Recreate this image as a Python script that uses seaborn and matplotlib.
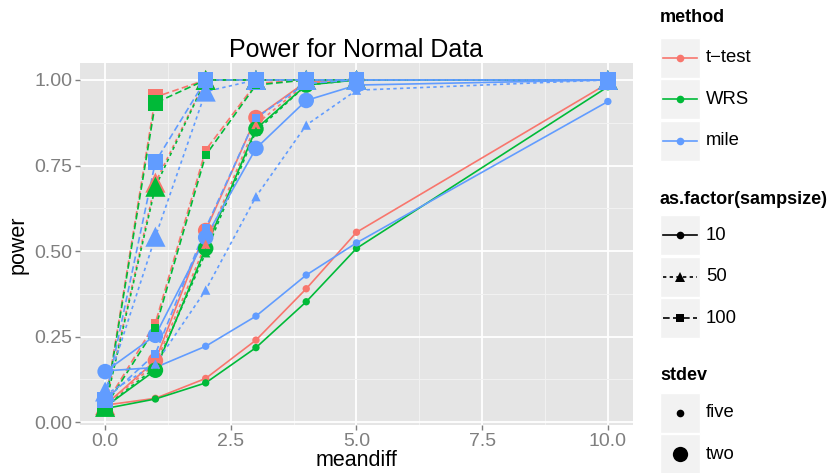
import matplotlib
matplotlib.use('Agg')
import matplotlib.pyplot as plt
import seaborn as sns
import pandas as pd
from matplotlib.patches import Rectangle
from matplotlib.lines import Line2D

plt.rcParams['font.family'] = ['Liberation Sans', 'DejaVu Sans']

# data
meandiff = [0, 1, 2, 3, 4, 5, 10]
methods = ['t\u2212test', 'WRS', 'mile']
sampsizes = ['10', '50', '100']
stdevs = ['five', 'two']

ttest_five_10 = [0.05, 0.07, 0.128, 0.24, 0.39, 0.555, 0.99]
ttest_five_50 = [0.05, 0.17, 0.52, 0.87, 0.99, 1.0, 1.0]
ttest_five_100 = [0.05, 0.29, 0.795, 0.99, 1.0, 1.0, 1.0]
ttest_two_10 = [0.05, 0.18, 0.56, 0.89, 0.995, 1.0, 1.0]
ttest_two_50 = [0.05, 0.70, 1.0, 1.0, 1.0, 1.0, 1.0]
ttest_two_100 = [0.05, 0.95, 1.0, 1.0, 1.0, 1.0, 1.0]

wrs_five_10 = [0.04, 0.068, 0.115, 0.218, 0.352, 0.508, 0.98]
wrs_five_50 = [0.045, 0.16, 0.495, 0.85, 0.985, 1.0, 1.0]
wrs_five_100 = [0.045, 0.275, 0.78, 0.985, 1.0, 1.0, 1.0]
wrs_two_10 = [0.045, 0.152, 0.508, 0.857, 0.985, 1.0, 1.0]
wrs_two_50 = [0.045, 0.688, 1.0, 1.0, 1.0, 1.0, 1.0]
wrs_two_100 = [0.045, 0.933, 1.0, 1.0, 1.0, 1.0, 1.0]

mile_five_10 = [0.15, 0.16, 0.222, 0.31, 0.43, 0.524, 0.937]
mile_five_50 = [0.08, 0.17, 0.386, 0.659, 0.868, 0.97, 1.0]
mile_five_100 = [0.065, 0.2, 0.567, 0.889, 0.99, 1.0, 1.0]
mile_two_10 = [0.148, 0.254, 0.54, 0.80, 0.94, 0.985, 1.0]
mile_two_50 = [0.09, 0.542, 0.966, 1.0, 1.0, 1.0, 1.0]
mile_two_100 = [0.065, 0.761, 1.0, 1.0, 1.0, 1.0, 1.0]

series = {
    ('t\u2212test', 'five', '10'): ttest_five_10, ('t\u2212test', 'five', '50'): ttest_five_50,
    ('t\u2212test', 'five', '100'): ttest_five_100, ('t\u2212test', 'two', '10'): ttest_two_10,
    ('t\u2212test', 'two', '50'): ttest_two_50, ('t\u2212test', 'two', '100'): ttest_two_100,
    ('WRS', 'five', '10'): wrs_five_10, ('WRS', 'five', '50'): wrs_five_50,
    ('WRS', 'five', '100'): wrs_five_100, ('WRS', 'two', '10'): wrs_two_10,
    ('WRS', 'two', '50'): wrs_two_50, ('WRS', 'two', '100'): wrs_two_100,
    ('mile', 'five', '10'): mile_five_10, ('mile', 'five', '50'): mile_five_50,
    ('mile', 'five', '100'): mile_five_100, ('mile', 'two', '10'): mile_two_10,
    ('mile', 'two', '50'): mile_two_50, ('mile', 'two', '100'): mile_two_100,
}

rows = []
for (m, sd, n), vals in series.items():
    for x, p in zip(meandiff, vals):
        rows.append({'method': m, 'stdev': sd, 'sampsize': n, 'meandiff': x, 'power': p})
df = pd.DataFrame(rows)

palette = {'t\u2212test': '#F8766D', 'WRS': '#00BA38', 'mile': '#619CFF'}
dashes = {'10': '', '50': (2, 2), '100': (4, 2)}

fig = plt.figure(figsize=(8.29, 4.73), dpi=100)
ax = fig.add_axes([80 / 829, 1 - 425 / 473, (633 - 80) / 829, (425 - 63.5) / 473])
ax.set_facecolor('#E5E5E5')

sns.lineplot(data=df, x='meandiff', y='power', hue='method', hue_order=methods,
             style='sampsize', style_order=sampsizes, units='stdev', estimator=None,
             palette=palette, dashes=dashes, lw=1.2, legend=False, sort=False, ax=ax)

# points, one call per sample size so each shape gets its own size range
shape_sizes = {'10': ('o', {'five': 28, 'two': 125}),
               '50': ('^', {'five': 45, 'two': 210}),
               '100': ('s', {'five': 34, 'two': 125})}
for n in sampsizes:
    mk, sz = shape_sizes[n]
    sns.scatterplot(data=df[df['sampsize'] == n], x='meandiff', y='power',
                    hue='method', hue_order=methods, palette=palette,
                    size='stdev', sizes=sz, size_order=stdevs, marker=mk,
                    linewidth=0, legend=False, ax=ax, zorder=3)

ax.set_xlim(-0.5, 10.5)
ax.set_ylim(-0.008, 1.048)
ax.set_xticks([0, 2.5, 5, 7.5, 10])
ax.set_xticklabels(['0.0', '2.5', '5.0', '7.5', '10.0'])
ax.set_xticks([1.25, 3.75, 6.25, 8.75], minor=True)
ax.set_yticks([0, 0.25, 0.5, 0.75, 1.0])
ax.set_yticklabels(['0.00', '0.25', '0.50', '0.75', '1.00'])
ax.set_yticks([0.125, 0.375, 0.625, 0.875], minor=True)
ax.grid(which='major', color='white', lw=1.3)
ax.grid(which='minor', color='#F2F2F2', lw=0.7)
ax.set_axisbelow(True)
for s in ax.spines.values():
    s.set_visible(False)
ax.tick_params(which='major', length=3.5, width=1, color='#7F7F7F',
               labelcolor='#7F7F7F', labelsize=14, pad=2)
ax.tick_params(which='minor', length=0)
ax.set_xlabel('meandiff', fontsize=15.5, labelpad=0)
ax.set_ylabel('power', fontsize=15.5, labelpad=4)
ax.set_title('Power for Normal Data', fontsize=18, pad=5)

# ggplot-style legend drawn in pixel coordinates
lax = fig.add_axes([0, 0, 1, 1])
lax.set_xlim(0, 829)
lax.set_ylim(473, 0)
lax.axis('off')
lax.patch.set_alpha(0)


def key_box(cy):
    lax.add_patch(Rectangle((660, cy - 20), 40, 40, facecolor='#F2F2F2',
                            edgecolor='white', lw=1))


def label(cy, txt):
    lax.text(706, cy, txt, fontsize=13.3, va='center', ha='left')


lax.text(660, 18, 'method', fontsize=13, fontweight='bold', va='center')
for cy, m in zip([57.7, 99, 140.7], methods):
    key_box(cy)
    lax.add_line(Line2D([663, 697], [cy, cy], color=palette[m], lw=1.2))
    lax.plot([680], [cy], 'o', color=palette[m], ms=5.5, mew=0)
    label(cy, m)

lax.text(660, 199, 'as.factor(sampsize)', fontsize=13, fontweight='bold', va='center')
leg_marks = {'10': ('o', 5.5), '50': ('^', 6.5), '100': ('s', 5.5)}
for cy, n in zip([235, 276.7, 318.3], sampsizes):
    key_box(cy)
    ln = Line2D([663, 697], [cy, cy], color='black', lw=1.2)
    if dashes[n]:
        ln.set_dashes(dashes[n])
    lax.add_line(ln)
    mk, ms = leg_marks[n]
    lax.plot([680], [cy], mk, color='black', ms=ms, mew=0)
    label(cy, n)

lax.text(660, 375, 'stdev', fontsize=13, fontweight='bold', va='center')
for cy, sd, ms in zip([412.7, 454.3], stdevs, [5.5, 11]):
    key_box(cy)
    lax.plot([680], [cy], 'o', color='black', ms=ms, mew=0)
    label(cy, sd)

fig.savefig('out.png', dpi=100)
